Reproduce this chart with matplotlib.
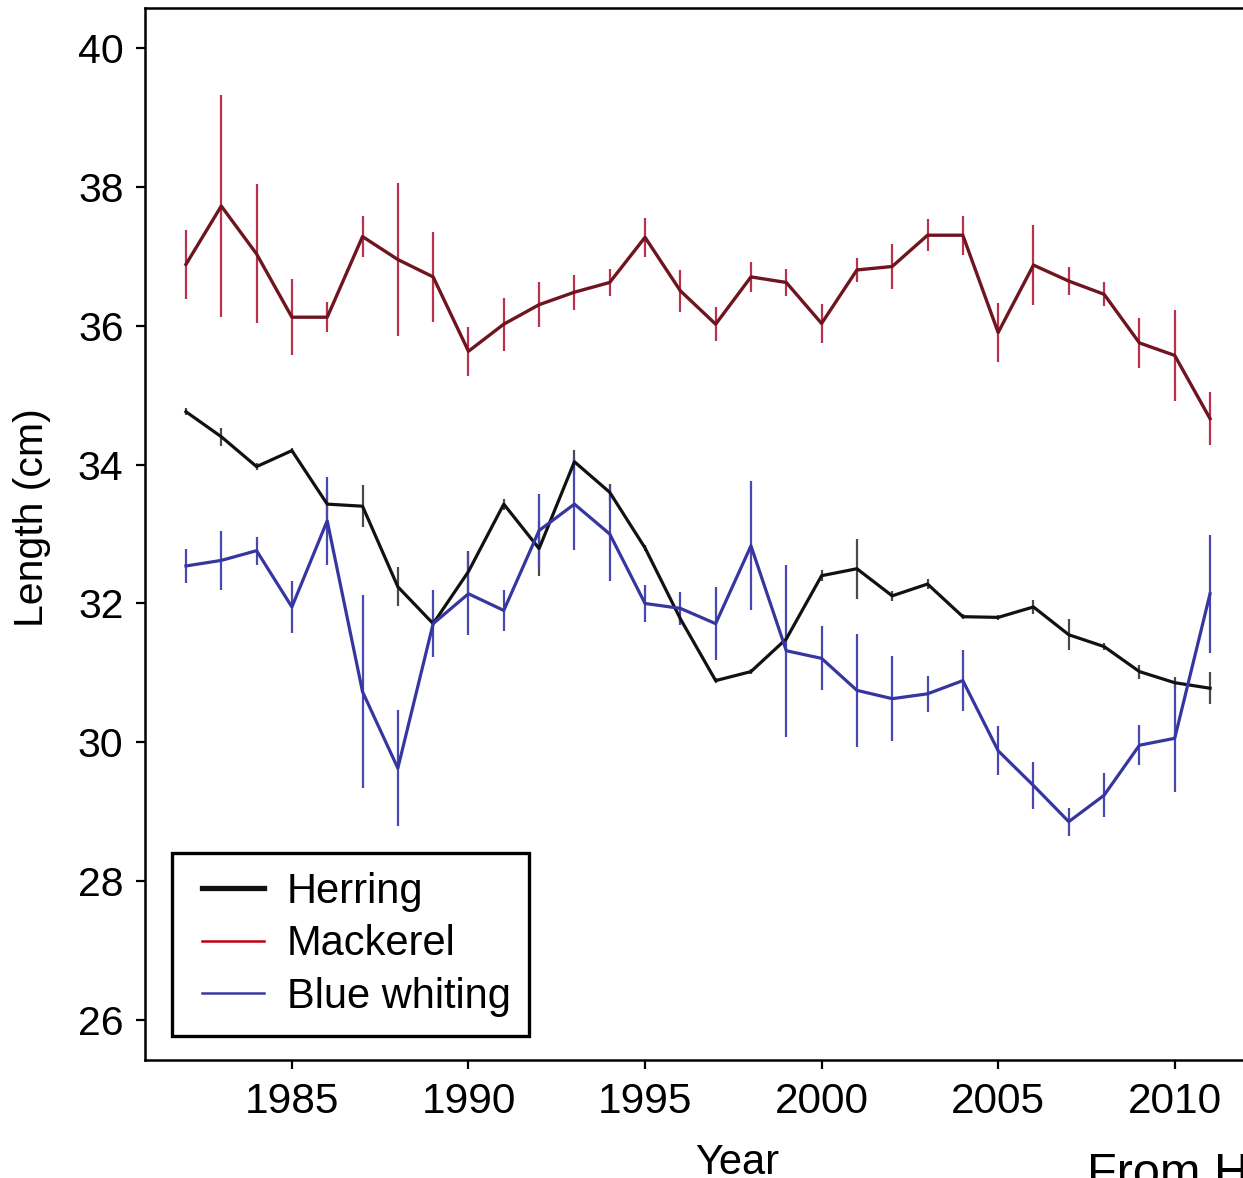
import matplotlib
matplotlib.use("Agg")
import matplotlib.pyplot as plt
from matplotlib.lines import Line2D
from matplotlib.legend_handler import HandlerLine2D
import numpy as np

plt.rcParams['font.family'] = ['Liberation Sans', 'DejaVu Sans']

years = list(range(1982, 2012))

herring = [34.76, 34.40, 33.97, 34.20, 33.43, 33.40, 32.24, 31.71, 32.46, 33.43,
           32.79, 34.04, 33.60, 32.80, 31.78, 30.89, 31.02, 31.49, 32.40, 32.50,
           32.11, 32.28, 31.81, 31.80, 31.95, 31.55, 31.38, 31.02, 30.86, 30.78]
herring_err = [0.05, 0.13, 0.05, 0.04, 0.20, 0.30, 0.28, 0.08, 0.30, 0.08,
               0.40, 0.17, 0.12, 0.04, 0.04, 0.04, 0.04, 0.04, 0.08, 0.43,
               0.07, 0.07, 0.04, 0.04, 0.10, 0.22, 0.05, 0.10, 0.08, 0.23]

mackerel = [36.88, 37.72, 37.03, 36.12, 36.12, 37.28, 36.95, 36.70, 35.63, 36.02,
            36.30, 36.48, 36.62, 37.27, 36.50, 36.02, 36.70, 36.62, 36.03, 36.80,
            36.85, 37.30, 37.30, 35.90, 36.87, 36.64, 36.45, 35.75, 35.57, 34.66]
mackerel_err = [0.50, 1.60, 1.00, 0.55, 0.22, 0.30, 1.10, 0.65, 0.35, 0.38,
                0.32, 0.25, 0.20, 0.28, 0.30, 0.24, 0.22, 0.20, 0.28, 0.17,
                0.33, 0.23, 0.28, 0.42, 0.57, 0.20, 0.17, 0.36, 0.65, 0.38]

blue_whiting = [32.54, 32.62, 32.76, 31.95, 33.19, 30.73, 29.63, 31.71, 32.14, 31.90,
                33.05, 33.43, 33.00, 32.00, 31.93, 31.71, 32.83, 31.32, 31.21, 30.75,
                30.63, 30.70, 30.89, 29.88, 29.38, 28.86, 29.24, 29.96, 30.06, 32.14]
blue_whiting_err = [0.24, 0.42, 0.20, 0.38, 0.63, 1.39, 0.83, 0.48, 0.59, 0.30,
                    0.53, 0.66, 0.68, 0.26, 0.24, 0.53, 0.93, 1.24, 0.46, 0.81,
                    0.61, 0.26, 0.44, 0.35, 0.34, 0.20, 0.32, 0.29, 0.77, 0.85]

series_names = ["Herring", "Mackerel", "Blue whiting"]
xticks = [1985, 1990, 1995, 2000, 2005, 2010]
yticks = [26, 28, 30, 32, 34, 36, 38, 40]

W, H = 1243, 1178
fig = plt.figure(figsize=(W / 100, H / 100), dpi=100)
fig.patch.set_facecolor('white')

left_px, right_px, top_px, bottom_px = 145, 1251, 8, 1060
ax = fig.add_axes([left_px / W, (H - bottom_px) / H,
                   (right_px - left_px) / W, (bottom_px - top_px) / H])

herr_col, herr_line = '#4a4a4a', '#111111'
mack_col, mack_line = '#b8324e', '#6e1520'
blue_col, blue_line = '#4848b0', '#3636a0'

ax.errorbar(years, mackerel, yerr=mackerel_err, fmt='none', ecolor=mack_col,
            elinewidth=1.6, capsize=0, zorder=2)
ax.plot(years, mackerel, color=mack_line, lw=2.4, zorder=3)

ax.errorbar(years, herring, yerr=herring_err, fmt='none', ecolor=herr_col,
            elinewidth=1.6, capsize=0, zorder=2)
ax.plot(years, herring, color=herr_line, lw=2.3, zorder=3)

ax.errorbar(years, blue_whiting, yerr=blue_whiting_err, fmt='none', ecolor=blue_col,
            elinewidth=1.6, capsize=0, zorder=2)
ax.plot(years, blue_whiting, color=blue_line, lw=2.3, zorder=3)

ax.set_xlim(1980.84, 2012.16)
ax.set_ylim(25.43, 40.57)
ax.set_xticks(xticks)
ax.set_yticks(yticks)
ax.tick_params(axis='both', direction='out', length=6.5, width=1.6,
               labelsize=29.5, colors='black')
ax.tick_params(axis='x', pad=9, labelsize=30.5)
ax.tick_params(axis='y', pad=9)
for s in ax.spines.values():
    s.set_linewidth(1.8)
    s.set_color('black')

ax.set_ylabel("Length (cm)", fontsize=29.5)
ax.yaxis.set_label_coords(-0.085, 0.516)
ax.set_xlabel("Year", fontsize=30, va='top')
ax.xaxis.set_label_coords(0.535, -0.079)

handles = [Line2D([0], [0], color='#111111', lw=3.8),
           Line2D([0], [0], color='#c00010', lw=1.8),
           Line2D([0], [0], color='#3a3aa0', lw=1.8)]
xpad = 0.28
leg = ax.legend(handles, series_names, loc='upper left',
                bbox_to_anchor=(27 / (right_px - left_px), (bottom_px - 853) / (bottom_px - top_px)),
                borderaxespad=0, fontsize=30, frameon=True, fancybox=False,
                framealpha=1,
                handlelength=1.47 + xpad, handletextpad=0.55, labelspacing=0.3,
                borderpad=0.45,
                handler_map={Line2D: HandlerLine2D(xpad=xpad)})
leg.get_frame().set_edgecolor('black')
leg.get_frame().set_linewidth(2.4)

fig.text(1087 / W, (H - 1187) / H, "From H", fontsize=35, ha='left', va='baseline')

fig.savefig("out.png", dpi=100)
